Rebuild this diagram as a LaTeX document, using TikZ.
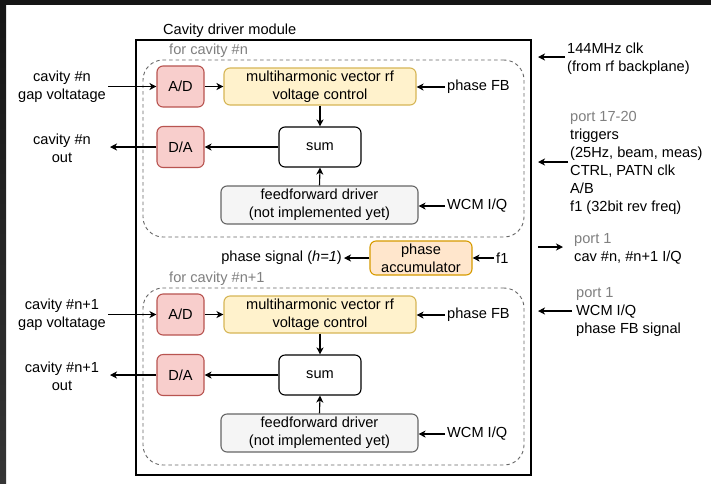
\documentclass[tikz,border=0pt]{standalone}
\usepackage{fontspec}
\setmainfont{Liberation Sans}
\usetikzlibrary{arrows.meta}

\definecolor{adfill}{HTML}{F8CECC}
\definecolor{adline}{HTML}{B85450}
\definecolor{mhfill}{HTML}{FFF2CC}
\definecolor{mhline}{HTML}{D6B656}
\definecolor{accfill}{HTML}{FFE6CC}
\definecolor{accline}{HTML}{D79B00}
\definecolor{fffill}{HTML}{F5F5F5}
\definecolor{ffline}{HTML}{666666}
\definecolor{dimtext}{HTML}{808080}
\definecolor{grpline}{HTML}{666666}
\definecolor{bandtop}{HTML}{151515}
\definecolor{bandbot}{HTML}{353535}

\tikzset{
  blk/.style={draw, rounded corners=6pt, line width=1.1pt, align=center, inner sep=0pt},
  conv/.style={blk, fill=adfill, draw=adline, minimum width=47pt, minimum height=41pt},
  mhbox/.style={blk, fill=mhfill, draw=mhline, minimum width=192pt, minimum height=37pt},
  sumbox/.style={blk, fill=white, draw=black, minimum width=82pt, minimum height=40pt},
  ffbox/.style={blk, fill=fffill, draw=ffline, minimum width=197pt, minimum height=38pt},
  accbox/.style={blk, fill=accfill, draw=accline, minimum width=102pt, minimum height=34pt},
  grp/.style={draw=grpline, dashed, dash pattern=on 3.5pt off 3pt, line width=0.9pt, rounded corners=20pt, minimum width=381pt, minimum height=177pt},
  lbl/.style={align=center, inner sep=2pt},
  lbll/.style={align=left, inner sep=2pt, anchor=west},
  arr/.style={-{Stealth[length=7pt,width=7pt,inset=2pt]}, line width=1.1pt},
}

\begin{document}
\begin{tikzpicture}[x=1pt, y=-1pt, font=\fontsize{14.6}{18}\selectfont]
\useasboundingbox (0,0) rectangle (711,483);
% page background and dark window edges
\fill[white] (0,0) rectangle (711,483);
\fill[bandtop] (0,0) rectangle (711,5);
\shade[top color=bandtop, bottom color=bandbot] (0,0) rectangle (6,483);

% module frame and title
\node[draw, line width=1.1pt, minimum width=395pt, minimum height=435pt, inner sep=0pt] (module) at (333.5,257.5) {};
\node[lbll] (title) at (161,31) {Cavity driver module};

% the two per-cavity channels
\foreach \g/\dy/\cav in {1/0/n, 2/228/n+1} {
  \node[grp] (grp\g) at (333.5,148.5+\dy) {};
  \node[lbll, text=dimtext] (grplbl\g) at (167,51+\dy) {for cavity \#\cav};

  \node[conv] (ad\g) at (180.5,86.5+\dy) {A/D};
  \node[conv] (da\g) at (180.5,147+\dy) {D/A};
  \node[mhbox] (mh\g) at (320,86.5+\dy) {multiharmonic vector rf\\voltage control};
  \node[sumbox] (sum\g) at (320,147+\dy) {sum};
  \node[ffbox] (ff\g) at (319.5,205+\dy) {feedforward driver\\(not implemented yet)};

  \node[lbl] (in\g) at (62,87+\dy) {cavity \#\cav\\gap voltatage};
  \node[lbl] (out\g) at (62,148+\dy) {cavity \#\cav\\out};
  \coordinate (outtip\g) at (110,147+\dy);
  \node[lbll] (pfb\g) at (445,87+\dy) {phase FB};
  \node[lbll] (wcm\g) at (445,206+\dy) {WCM I/Q};

  \draw[arr] (in\g.east |- ad\g.west) -- (ad\g.west);
  \draw[arr] (ad\g.east) -- (ad\g.east -| mh\g.west);
  \draw[arr] (mh\g.south) -- (sum\g.north);
  \draw[arr] (ff\g.north) -- (sum\g.south);
  \draw[arr] (sum\g.west) -- (sum\g.west -| da\g.east);
  \draw[arr] (da\g.west) -- (outtip\g);
  \draw[arr] (pfb\g.west) -- (pfb\g.west -| mh\g.east);
  \draw[arr] (wcm\g.west) -- (wcm\g.west -| ff\g.east);
}

% phase accumulator between the channels
\node[accbox] (acc) at (421,258) {phase\\accumulator};
\node[lbll] (f1) at (494,258) {f1};
\node[lbl, anchor=east] (phsig) at (344,258) {phase signal (\textit{h=1})};
\draw[arr] (f1.west) -- (acc.east);
\draw[arr] (acc.west) -- (phsig.east);

% external signals on the right
\node[lbll] (clk) at (565,58.5) {144MHz clk\\(from rf backplane)};
\coordinate (clktip) at (538,57);
\draw[arr] (clk.west |- clktip) -- (clktip);

\node[lbll] (trig) at (568,162.5) {\textcolor{dimtext}{port 17-20}\\triggers\\(25Hz, beam, meas)\\CTRL, PATN clk\\A/B\\f1 (32bit rev freq)};
\coordinate (trigtip) at (538,162);
\draw[arr] (trig.west |- trigtip) -- (trigtip);

\node[lbll] (cavio) at (572,248.5) {\textcolor{dimtext}{port 1}\\cav \#n, \#n+1 I/Q};
\coordinate (cavsrc) at (538,247);
\coordinate (cavtip) at (563,247);
\draw[arr] (cavsrc) -- (cavtip);

\node[lbll] (wcmin) at (574,312) {\textcolor{dimtext}{port 1}\\WCM I/Q\\phase FB signal};
\coordinate (wcmtip) at (538,311);
\draw[arr] ([xshift=-2pt]wcmin.west |- wcmtip) -- (wcmtip);
\end{tikzpicture}
\end{document}
